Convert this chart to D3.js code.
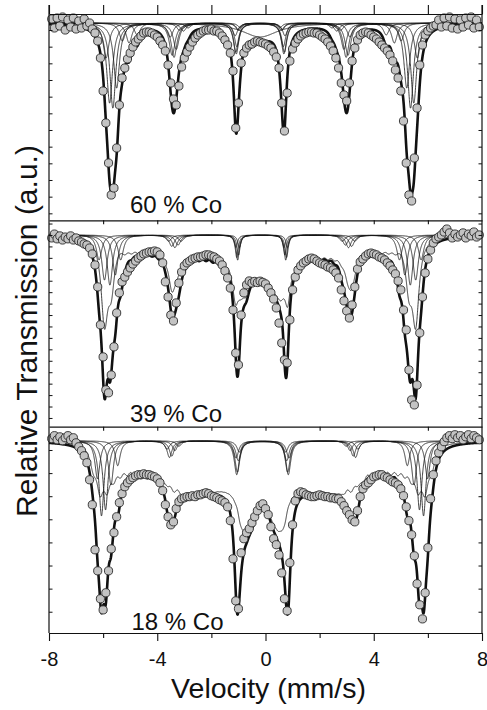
<!DOCTYPE html>
<html>
<head>
<meta charset="utf-8">
<script src="https://cdn.jsdelivr.net/npm/d3@7"></script>
<style>
  html, body { margin: 0; padding: 0; background: #fff; }
  svg { display: block; font-family: "Liberation Sans", Arial, Helvetica, sans-serif; }
</style>
</head>
<body>
<svg id="chart" width="487" height="710"></svg>
<script>
// ---- measured spectra -------------------------------------------------
// channel velocities (mm/s)
const velocity = d3.range(-79, 80).map(i => i / 10);

// relative transmission per channel, one array per sample
const trans60 = [
  100.66,100.12,100.72,100.24,100.78,100.00,100.60,100.18,100.72,100.06,
  100.54,100.12,100.66,100.24,100.42,100.06,99.82,99.34,98.32,96.34,
  94.42,92.02,90.10,90.52,92.92,95.50,97.12,97.72,98.26,98.62,
  98.98,99.28,99.46,99.64,99.82,99.88,99.88,99.82,99.70,99.58,
  99.34,99.10,98.74,97.90,96.82,95.86,95.50,96.64,97.78,98.32,
  98.68,98.98,99.28,99.52,99.70,99.82,99.94,100.00,100.00,100.06,
  99.94,99.94,99.82,99.64,99.40,99.10,98.62,97.54,94.12,95.62,
  98.02,98.62,98.92,99.10,99.16,99.28,99.34,99.28,99.22,99.16,
  99.04,98.92,98.68,98.38,97.72,95.62,93.94,96.22,98.14,98.86,
  99.22,99.46,99.64,99.76,99.82,99.88,99.88,99.82,99.82,99.70,
  99.58,99.46,99.28,99.04,98.74,98.32,97.72,96.82,96.10,95.74,
  96.82,98.14,98.92,99.40,99.70,99.82,99.88,99.82,99.70,99.58,
  99.46,99.28,99.10,98.92,98.74,98.50,98.14,97.60,97.12,96.34,
  94.54,92.02,90.10,89.74,92.32,95.32,97.90,99.10,99.70,99.94,
  100.12,100.24,100.30,100.60,100.18,100.72,100.24,100.78,100.12,100.66,
  100.06,100.60,100.18,100.72,100.30,100.78,100.12,100.60,100.18
];
const trans39 = [
  99.87,100.04,99.83,99.96,99.78,99.91,99.83,99.96,99.78,99.87,
  99.74,99.69,99.61,99.56,99.43,99.17,98.69,97.73,96.07,94.67,
  93.23,93.10,93.88,95.11,96.59,97.47,97.95,98.16,98.38,98.56,
  98.73,98.86,98.99,99.08,99.17,99.21,99.26,99.26,99.30,99.26,
  99.13,98.78,97.95,97.29,96.50,96.24,97.03,97.90,98.38,98.65,
  98.78,98.86,98.95,98.99,99.04,99.04,99.08,99.13,99.13,99.08,
  99.04,98.95,98.86,98.69,98.43,98.12,97.68,96.72,94.84,94.32,
  96.50,97.47,97.82,97.99,97.90,97.97,97.92,97.98,97.93,97.86,
  97.68,97.47,97.20,96.81,96.15,95.28,94.54,94.41,96.29,97.60,
  98.16,98.47,98.65,98.78,98.86,98.95,98.99,98.95,98.86,98.78,
  98.73,98.69,98.60,98.56,98.47,98.34,98.12,97.60,97.12,96.68,
  96.37,96.94,97.73,98.51,98.82,98.95,99.08,99.17,99.21,99.17,
  99.13,99.04,98.99,98.91,98.78,98.65,98.47,98.30,97.99,97.60,
  96.72,95.85,94.10,92.79,92.57,93.44,95.72,97.29,98.34,98.95,
  99.34,99.65,99.83,99.91,100.00,100.13,100.26,100.09,99.87,100.04,
  99.91,100.00,100.09,99.87,100.04,99.96,100.13,99.91,100.00
];
const trans18 = [
  100.49,100.62,100.44,100.57,100.40,100.53,100.62,100.44,100.53,100.31,
  100.14,99.97,99.75,99.45,98.71,97.63,95.68,94.77,93.56,93.08,
  93.82,94.77,95.72,96.42,97.11,97.72,98.11,98.41,98.58,98.71,
  98.80,98.88,98.93,98.93,98.97,98.93,98.93,98.88,98.84,98.75,
  98.58,98.24,97.63,97.11,96.76,96.89,97.46,97.76,97.89,97.93,
  97.98,97.98,98.02,97.98,98.06,98.06,98.11,98.15,98.11,98.02,
  97.98,97.93,97.85,97.80,97.72,97.54,96.94,95.29,93.47,93.13,
  95.55,96.16,96.42,96.59,96.85,97.11,97.37,97.59,97.67,97.46,
  97.20,96.68,96.16,95.90,95.46,94.68,93.56,93.04,95.12,96.76,
  97.80,98.11,98.19,98.15,98.06,98.02,97.98,97.98,98.02,98.06,
  98.02,97.98,97.98,97.93,97.93,97.89,97.89,97.76,97.59,97.37,
  97.20,96.98,96.89,97.37,97.98,98.32,98.49,98.58,98.71,98.84,
  98.88,98.93,98.93,98.84,98.80,98.71,98.62,98.58,98.49,98.32,
  98.02,97.54,96.94,96.33,95.42,94.21,93.30,92.69,93.82,95.77,
  97.89,98.93,99.53,99.88,100.14,100.36,100.53,100.62,100.49,100.66,
  100.53,100.62,100.44,100.57,100.66,100.49,100.62,100.53,100.44
];

const sampleLabels = ["60 % Co", "39 % Co", "18 % Co"];
const xMajorTicks = [-8, -4, 0, 4, 8];
const xMinorTicks = [-6, -2, 2, 6];
const xFrameTicks = [-8, -6, -4, -2, 0, 2, 4, 6, 8];

// ---- fitted components --------------------------------------------------
// crystalline sextets: field = half splitting of lines 1/6 (mm/s), depth in %
const fields60 = [5.75, 5.62, 5.50, 5.36, 5.15, 4.90, 4.60];
const depths60 = [2.10, 4.80, 5.10, 3.90, 1.08, 1.20, 0.72];
const ratios60 = [1, 0.40, 0.36, 0.36, 0.40, 1];
const widths60 = [0.26, 0.26, 0.22, 0.22, 0.26, 0.26];
const central60 = { center: -0.2, width: 1.6, depth: 0.84 };

const fields39 = [5.95, 5.75, 5.55, 5.35, 5.15];
const depths39 = [1.09, 1.97, 2.19, 1.75, 1.09];
const ratios39 = [1, 0.25, 0.5, 0.5, 0.25, 1];
const widths39 = [0.24, 0.24, 0.14, 0.14, 0.24, 0.24];

const fields18 = [6.10, 5.95, 5.80, 5.60, 5.35];
const depths18 = [1.65, 3.25, 2.99, 1.91, 1.08];
const ratios18 = [1, 0.22, 0.45, 0.45, 0.22, 1];
const widths18 = [0.22, 0.22, 0.22, 0.22, 0.22, 0.22];

// hyperfine-field distributions of the disordered part: field bins and peak fields (mm/s)
const distBins39 = [[0.0, 0.15, 0.3], [0.5, 0.75, 1.0, 1.25, 1.5, 1.75], [2.0, 2.25, 2.5, 2.75, 3.0], [3.25, 3.5, 3.75, 4.0, 4.25, 4.5, 4.75, 5.0]];
const distPeak39 = [5.25, 5.5, 5.75, 6.0];
const distBins18 = [[0.0, 0.15, 0.3], [0.5, 0.75, 1.0, 1.25, 1.5, 1.75], [2.0, 2.25, 2.5, 2.75, 3.0], [3.25, 3.5, 3.75, 4.0, 4.25, 4.5, 4.75, 5.0]];
const distPeak18 = [5.25, 5.5, 5.75, 6.0, 6.25];
const distWidths = [0.3, 0.3, 0.2, 0.2, 0.3, 0.3];

// ---- line shapes -------------------------------------------------------
const LINE_COEF = [-1, -0.578, -0.16, 0.16, 0.578, 1];
const LINE_PAIRS = [[1, 0, 0, 0, 0, 1], [0, 1, 0, 0, 1, 0], [0, 0, 1, 1, 0, 0]];

function sextetPositions(field, shift, quad) {
  return LINE_COEF.map((k, i) => shift + (i === 0 || i === 5 ? quad : -quad) + k * field);
}
function lorentz(v, pos, depth, fwhm) {
  const u = 2 * (v - pos) / fwhm;
  return depth / (1 + u * u);
}
function sextet(v, field, depth, shift, quad, ratios, widths) {
  const pos = sextetPositions(field, shift, quad);
  let a = 0;
  for (let i = 0; i < 6; i++) a += lorentz(v, pos[i], depth * ratios[i], widths[i]);
  return a;
}
// unit-depth absorption of one line pair summed over a set of fields
function pairShape(fields, mask, shift, quad, widths) {
  const posList = fields.map(f => sextetPositions(f, shift, quad));
  return v => {
    let a = 0;
    for (const pos of posList) for (let i = 0; i < 6; i++) if (mask[i]) a += lorentz(v, pos[i], 1, widths[i]);
    return a;
  };
}
// non-negative least squares by cyclic coordinate descent
function nnls(cols, target, sweeps) {
  const n = target.length, w = cols.map(() => 0), r = target.slice();
  const norms = cols.map(c => c.reduce((s, t) => s + t * t, 0));
  for (let it = 0; it < sweeps; it++) {
    for (let j = 0; j < cols.length; j++) {
      const c = cols[j];
      let g = 0;
      for (let i = 0; i < n; i++) g += c[i] * r[i];
      const nw = Math.max(0, w[j] + g / norms[j]), d = nw - w[j];
      if (d !== 0) { for (let i = 0; i < n; i++) r[i] -= d * c[i]; w[j] = nw; }
    }
  }
  return w;
}

// ---- panels ------------------------------------------------------------
const panels = [
  { label: sampleLabels[0], trans: trans60, base: 100.42, domain: [88.58, 100.96], tickStep: 1,
    shift: -0.17, quad: 0.03, fields: fields60, depths: depths60, ratios: ratios60, widths: widths60,
    dist: null, central: central60, labelAt: [130, 213] },
  { label: sampleLabels[1], trans: trans39, base: 100.0, domain: [91.62, 100.64], tickStep: 0.5,
    shift: -0.17, quad: -0.03, fields: fields39, depths: depths39, ratios: ratios39, widths: widths39,
    dist: { bins: distBins39, peak: distPeak39 }, central: null, labelAt: [130, 421.5] },
  { label: sampleLabels[2], trans: trans18, base: 100.4, domain: [92.08, 101.01], tickStep: 1,
    shift: -0.11, quad: 0, fields: fields18, depths: depths18, ratios: ratios18, widths: widths18,
    dist: { bins: distBins18, peak: distPeak18 }, central: null, labelAt: [131.5, 630] }
];

const svg = d3.select("#chart");
const left = 49, right = 482, frameTop = 5, plotTop = 14, panelH = 206.33;
const plotBottom = plotTop + 3 * panelH;
const x = d3.scaleLinear().domain([-8, 8]).range([left, right]);
const fine = d3.range(-8, 8.0001, 0.004);
const ink = "#111";

panels.forEach((p, i) => {
  const top = plotTop + i * panelH, bottom = top + panelH;
  const y = d3.scaleLinear().domain(p.domain).range([bottom, top]);
  const g = svg.append("g");

  const clipId = "clip" + i;
  svg.append("clipPath").attr("id", clipId)
    .append("rect").attr("x", left).attr("y", top).attr("width", right - left).attr("height", panelH);

  // crystalline sextets and central line
  const comps = p.fields.map((f, k) => v => sextet(v, f, p.depths[k], p.shift, p.quad, p.ratios, p.widths));
  if (p.central) comps.push(v => lorentz(v, p.central.center, p.central.depth, p.central.width));

  // field distribution: line-pair amplitudes fitted to what the sextets leave
  if (p.dist) {
    const shapes = [];
    p.dist.bins.forEach(b => LINE_PAIRS.forEach(m => shapes.push(pairShape(b, m, p.shift, p.quad, distWidths))));
    p.dist.peak.forEach(f => LINE_PAIRS.forEach(m => shapes.push(pairShape([f], m, p.shift, p.quad, distWidths))));
    const target = velocity.map((v, j) => p.base - p.trans[j] - comps.reduce((s, fn) => s + fn(v), 0));
    const cols = shapes.map(fn => velocity.map(fn));
    const w = nnls(cols, target, 4000);
    const used = shapes.map((fn, k) => [fn, w[k]]).filter(d => d[1] > 1e-6);
    comps.push(v => used.reduce((s, d) => s + d[1] * d[0](v), 0));
  }

  const line = d3.line().x(d => x(d[0])).y(d => y(d[1]));
  const absGrid = comps.map(fn => fine.map(fn));
  const curves = absGrid.map(a => fine.map((v, j) => [v, p.base - a[j]]));
  const total = fine.map((v, j) => [v, p.base - absGrid.reduce((s, a) => s + a[j], 0)]);

  const cg = g.append("g").attr("clip-path", `url(#${clipId})`);
  cg.selectAll("path.sub").data(curves).join("path").attr("class", "sub")
    .attr("d", line).attr("fill", "none").attr("stroke", "#1c1c1c").attr("stroke-width", 0.85);

  cg.append("path").datum(total).attr("d", line)
    .attr("fill", "none").attr("stroke", ink).attr("stroke-width", 2.6).attr("stroke-linejoin", "round");

  g.append("g").selectAll("circle").data(p.trans).join("circle")
    .attr("cx", (d, j) => x(velocity[j])).attr("cy", d => y(d)).attr("r", 4.1)
    .attr("fill", "#c3c3c3").attr("stroke", "#2a2a2a").attr("stroke-width", 0.9);

  // inner minor ticks on both sides
  const lo = Math.ceil(p.domain[0] / p.tickStep) * p.tickStep;
  const yTicks = d3.range(lo, p.domain[1], p.tickStep).filter(t => y(t) > top + 3 && y(t) < bottom - 3);
  const lAxis = g.append("g").attr("transform", `translate(${left},0)`)
    .call(d3.axisRight(y).tickValues(yTicks).tickSize(3.5).tickFormat(""));
  const rAxis = g.append("g").attr("transform", `translate(${right},0)`)
    .call(d3.axisLeft(y).tickValues(yTicks).tickSize(3.5).tickFormat(""));
  [lAxis, rAxis].forEach(a => { a.select(".domain").remove(); a.selectAll("line").attr("stroke", ink).attr("stroke-width", 1); });

  g.append("text").attr("x", p.labelAt[0]).attr("y", p.labelAt[1])
    .attr("font-size", 24).attr("fill", ink).text(p.label);
});

// frame: top axis, panel separators, bottom axis
function styleAxis(a) {
  a.select(".domain").attr("stroke", ink).attr("stroke-width", 1.2);
  a.selectAll(".tick line").attr("stroke", ink).attr("stroke-width", 1.1);
}
styleAxis(svg.append("g").attr("transform", `translate(0,${plotTop})`)
  .call(d3.axisTop(x).tickValues(xFrameTicks).tickSize(9).tickSizeOuter(0).tickFormat("")));
[1, 2].forEach(k => styleAxis(svg.append("g").attr("transform", `translate(0,${plotTop + k * panelH})`)
  .call(d3.axisBottom(x).tickValues(xFrameTicks.slice(1, -1)).tickSize(4).tickSizeOuter(0).tickFormat(""))));
const bottomAxis = svg.append("g").attr("transform", `translate(0,${plotBottom})`)
  .call(d3.axisBottom(x).tickValues(xMajorTicks).tickSize(8).tickSizeOuter(0).tickPadding(11).tickFormat(d => String(d)));
styleAxis(bottomAxis);
bottomAxis.selectAll("text").attr("font-size", 20).attr("fill", ink).attr("font-family", "Liberation Sans, Arial, sans-serif");
styleAxis(svg.append("g").attr("transform", `translate(0,${plotBottom})`)
  .call(d3.axisBottom(x).tickValues(xMinorTicks).tickSize(5).tickSizeOuter(0).tickFormat("")));

[left, right].forEach(px => svg.append("line").attr("x1", px).attr("x2", px)
  .attr("y1", frameTop).attr("y2", plotBottom).attr("stroke", ink).attr("stroke-width", 1.2));

svg.append("text").attr("x", 268.5).attr("y", 698).attr("text-anchor", "middle")
  .attr("font-size", 28.5).attr("fill", ink).text("Velocity (mm/s)");
svg.append("text").attr("transform", "translate(37,331) rotate(-90)").attr("text-anchor", "middle")
  .attr("font-size", 30).attr("fill", ink).text("Relative Transmission (a.u.)");
</script>
</body>
</html>
